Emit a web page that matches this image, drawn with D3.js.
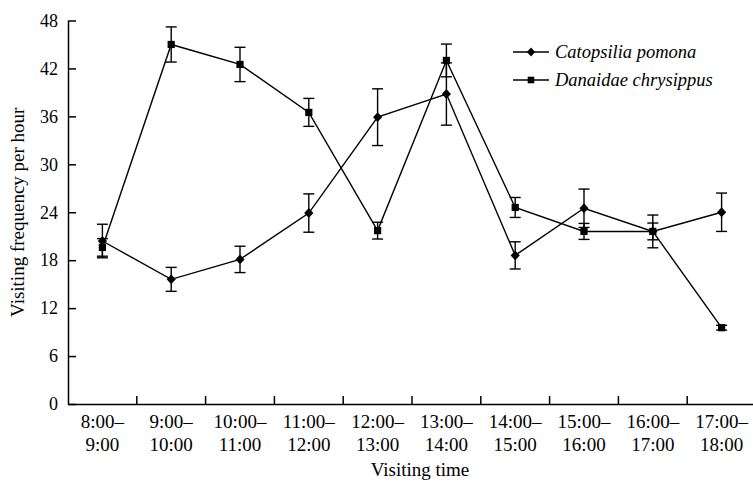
<!DOCTYPE html>
<html>
<head>
<meta charset="utf-8">
<script src="https://cdn.jsdelivr.net/npm/d3@7"></script>
<style>
  body { margin: 0; background: #fff; }
  svg { display: block; font-family: "Liberation Serif", "Times New Roman", serif; }
</style>
</head>
<body>
<div id="canvas"></div>
<script>
// data
const slots = ["8:00–9:00", "9:00–10:00", "10:00–11:00", "11:00–12:00", "12:00–13:00",
               "13:00–14:00", "14:00–15:00", "15:00–16:00", "16:00–17:00", "17:00–18:00"];
const pomona = [20.4, 15.6, 18.1, 23.9, 35.9, 38.8, 18.6, 24.5, 21.6, 24.0];
const pomonaErr = [2.1, 1.5, 1.65, 2.4, 3.55, 3.9, 1.7, 2.4, 2.05, 2.4];
const chrysippus = [19.6, 45.0, 42.5, 36.5, 21.7, 43.0, 24.6, 21.6, 21.6, 9.55];
const chrysippusErr = [1.1, 2.2, 2.15, 1.75, 1.05, 2.05, 1.25, 1.0, 1.05, 0.3];
const yTicks = [0, 6, 12, 18, 24, 30, 36, 42, 48];
const seriesNames = ["Catopsilia pomona", "Danaidae chrysippus"];

// dimensions
const width = 753;
const height = 481;
const plotLeft = 68, plotRight = 756, plotTop = 20.5, plotBottom = 404;

const svg = d3.select("#canvas").append("svg")
    .attr("width", width)
    .attr("height", height);

const x = d3.scaleBand().domain(slots).range([plotLeft, plotRight]).padding(0);
const y = d3.scaleLinear().domain([0, 48]).range([plotBottom, plotTop]);
const cx = d => x(d) + x.bandwidth() / 2;

// a fuller diamond than d3's built-in one
const fatDiamond = {
    draw(ctx, size) {
        const r = Math.sqrt(size / 2);
        ctx.moveTo(0, -r * 1.08);
        ctx.lineTo(r, 0);
        ctx.lineTo(0, r * 1.08);
        ctx.lineTo(-r, 0);
        ctx.closePath();
    }
};

// Y axis
const yAxis = svg.append("g")
    .attr("transform", `translate(${plotLeft},0)`)
    .call(d3.axisLeft(y).tickValues(yTicks).tickSizeInner(-8).tickSizeOuter(0).tickPadding(10));
yAxis.select(".domain").attr("stroke", "#000").attr("stroke-width", 1.5);
yAxis.selectAll(".tick line").attr("stroke", "#000").attr("stroke-width", 1.5);
yAxis.selectAll(".tick text")
    .attr("font-family", "Liberation Serif, Times New Roman, serif")
    .attr("font-size", 18)
    .attr("fill", "#000");

// X axis
const xAxis = svg.append("g")
    .attr("transform", `translate(0,${plotBottom})`)
    .call(d3.axisBottom(x).tickSize(0).tickPadding(0));
xAxis.select(".domain").attr("stroke", "#000").attr("stroke-width", 1.5);
xAxis.selectAll(".tick text").remove();
xAxis.selectAll(".tick").each(function(d) {
    const parts = d.split("–");
    const t = d3.select(this).append("text")
        .attr("fill", "#000")
        .attr("font-family", "Liberation Serif, Times New Roman, serif")
        .attr("font-size", 19)
        .attr("text-anchor", "middle");
    t.append("tspan").attr("x", 0).attr("y", 24).text(parts[0] + "–");
    t.append("tspan").attr("x", 0).attr("y", 47).text(parts[1]);
});
// boundary ticks pointing inward
svg.append("g").selectAll("line")
    .data(slots.slice(1).concat([null]))
    .join("line")
    .attr("x1", d => d === null ? plotRight : x(d))
    .attr("x2", d => d === null ? plotRight : x(d))
    .attr("y1", plotBottom)
    .attr("y2", plotBottom - 8)
    .attr("stroke", "#000")
    .attr("stroke-width", 1.5);

// axis titles
svg.append("text")
    .attr("x", (plotLeft + plotRight) / 2 + 8)
    .attr("y", 476)
    .attr("text-anchor", "middle")
    .attr("font-size", 19)
    .text("Visiting time");

svg.append("text")
    .attr("transform", `translate(24,${(plotTop + plotBottom) / 2}) rotate(-90)`)
    .attr("text-anchor", "middle")
    .attr("font-size", 19)
    .text("Visiting frequency per hour");

// series
const series = [
    {name: seriesNames[0], values: pomona, errs: pomonaErr, shape: fatDiamond, size: 42},
    {name: seriesNames[1], values: chrysippus, errs: chrysippusErr, shape: d3.symbolSquare, size: 52}
];

const line = d3.line()
    .x(d => cx(d.slot))
    .y(d => y(d.v));

series.forEach(s => {
    const pts = slots.map((slot, i) => ({slot: slot, v: s.values[i], e: s.errs[i]}));

    svg.append("path")
        .datum(pts)
        .attr("fill", "none")
        .attr("stroke", "#000")
        .attr("stroke-width", 1.4)
        .attr("d", line);

    const eb = svg.append("g").selectAll("g")
        .data(pts)
        .join("g")
        .attr("stroke", "#000")
        .attr("stroke-width", 1.4);
    eb.append("line")
        .attr("x1", d => cx(d.slot)).attr("x2", d => cx(d.slot))
        .attr("y1", d => y(d.v - d.e)).attr("y2", d => y(d.v + d.e));
    eb.append("line")
        .attr("x1", d => cx(d.slot) - 5.5).attr("x2", d => cx(d.slot) + 5.5)
        .attr("y1", d => y(d.v + d.e)).attr("y2", d => y(d.v + d.e));
    eb.append("line")
        .attr("x1", d => cx(d.slot) - 5.5).attr("x2", d => cx(d.slot) + 5.5)
        .attr("y1", d => y(d.v - d.e)).attr("y2", d => y(d.v - d.e));

    svg.append("g").selectAll("path")
        .data(pts)
        .join("path")
        .attr("transform", d => `translate(${cx(d.slot)},${y(d.v)})`)
        .attr("d", d3.symbol().type(s.shape).size(s.size))
        .attr("fill", "#000");
});

// legend
const legend = svg.append("g");
series.forEach((s, i) => {
    const ly = 52 + i * 28;
    legend.append("line")
        .attr("x1", 513).attr("x2", 549)
        .attr("y1", ly).attr("y2", ly)
        .attr("stroke", "#000").attr("stroke-width", 1.4);
    legend.append("path")
        .attr("transform", `translate(531,${ly})`)
        .attr("d", d3.symbol().type(s.shape).size(s.size - 8))
        .attr("fill", "#000");
    legend.append("text")
        .attr("x", 555)
        .attr("y", ly + 6)
        .attr("font-size", 18.5)
        .attr("font-style", "italic")
        .text(s.name);
});
</script>
</body>
</html>
